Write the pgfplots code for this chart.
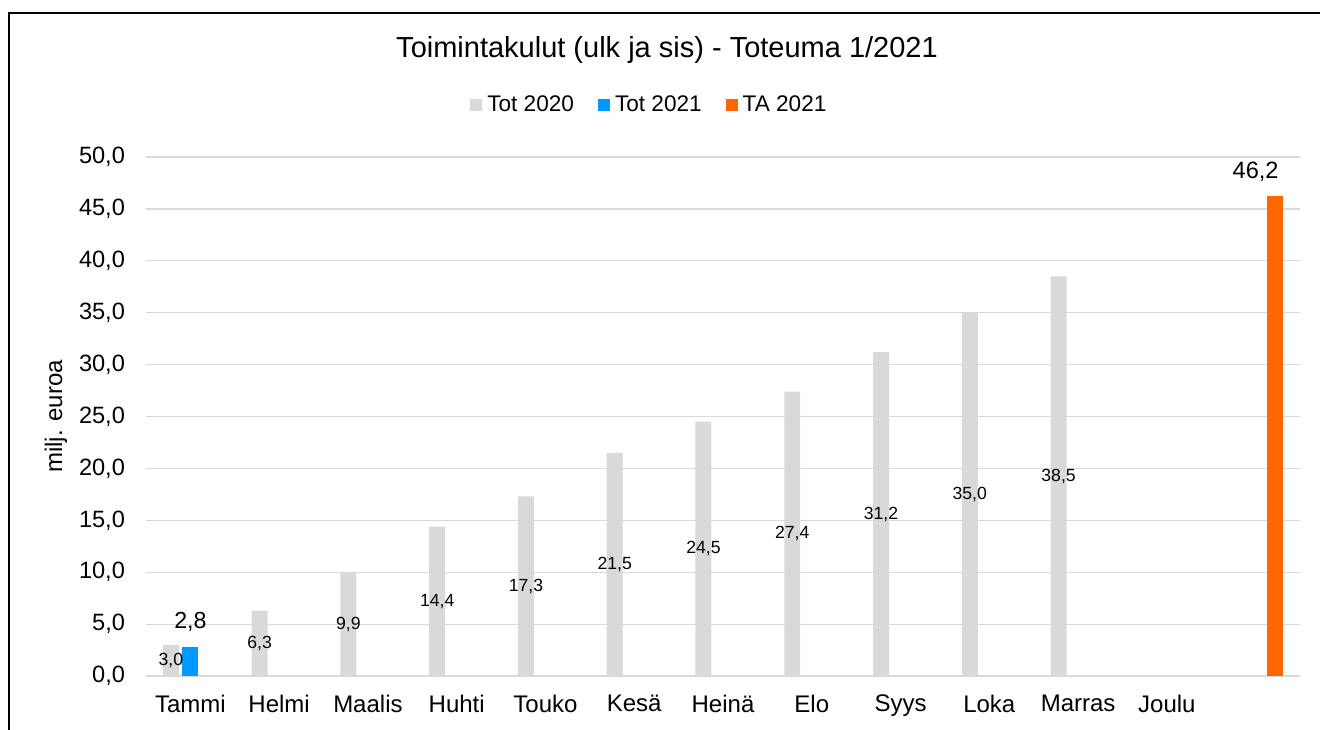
\documentclass[border=0pt]{standalone}
\usepackage{pgfplots}
\pgfplotsset{compat=1.18}
\usepackage{pgfplotstable}
\usepackage{fontspec}
\setmainfont{Liberation Sans}
\definecolor{gbar}{HTML}{D9D9D9}
\definecolor{bbar}{HTML}{0099FF}
\definecolor{obar}{HTML}{FF6600}
\definecolor{gridc}{HTML}{D9D9D9}
\pgfplotstableread{
x v
0 3.0
1 6.3
2 9.9
3 14.4
4 17.3
5 21.5
6 24.5
7 27.4
8 31.2
9 35.0
10 38.5
}\totA
\pgfplotstableread{
x v
0 2.8
}\totB
\pgfplotstableread{
x v
12 46.2
}\taB
\begin{document}
\begin{tikzpicture}
\useasboundingbox (0,0) rectangle (660pt,364.5pt);
\draw[line width=1pt] (4.65pt,-1pt) -- (4.65pt,358pt) -- (661pt,358pt);
\node[font=\fontsize{14.5}{17}\selectfont] at (333.5pt,339.5pt) {Toimintakulut (ulk ja sis) - Toteuma 1/2021};
\begin{axis}[
  at={(73pt,26.5pt)}, anchor=south west,
  scale only axis, width=577pt, height=259.5pt,
  xmin=-0.5, xmax=12.5, ymin=0, ymax=50,
  xtick={0,...,11},
  xticklabels={Tammi,Helmi,Maalis,Huhti,Touko,Kesä,Heinä,Elo,Syys,Loka,Marras,Joulu},
  ytick={0,5,...,50},
  major tick length=0pt,
  axis line style={draw=none},
  ymajorgrids, grid style={gridc, line width=0.6pt},
  xticklabel style={font=\fontsize{12}{14}\selectfont, yshift=-6pt},
  yticklabel style={font=\fontsize{11.8}{14}\selectfont, xshift=-7pt,
    /pgf/number format/.cd, fixed, fixed zerofill, precision=1, use comma, assume math mode=true},
  ylabel={milj. euroa},
  every axis y label/.style={at={(axis description cs:-0.078,0.5)}, rotate=90, anchor=center, font=\fontsize{12}{14}\selectfont},
  legend style={at={(0.4375,1.100)}, anchor=center, draw=none, fill=none,
    font=\fontsize{11.3}{14}\selectfont, legend columns=3,
    /tikz/every even column/.append style={column sep=9.5pt},
    nodes={inner sep=2.5pt}},
  legend cell align=left,
  clip=false,
]
\addplot[ybar, bar width=0.18, bar shift=-0.22, fill=gbar, draw=none,
  legend image code/.code={\fill[gbar] (0pt,-3pt) rectangle (6pt,3pt);}]
  table[x=x, y=v] {\totA};
\addlegendentry{Tot 2020}
\addplot[ybar, bar width=0.18, bar shift=0, fill=bbar, draw=none,
  nodes near coords={\pgfmathprintnumber[fixed,fixed zerofill,precision=1,use comma,assume math mode=true]{\pgfplotspointmeta}},
  every node near coord/.append style={font=\fontsize{11.6}{13}\selectfont, black, yshift=4pt},
  legend image code/.code={\fill[bbar] (0pt,-3pt) rectangle (6pt,3pt);}]
  table[x=x, y=v] {\totB};
\addlegendentry{Tot 2021}
\addplot[ybar, bar width=0.18, bar shift=0.22, fill=obar, draw=none,
  nodes near coords={\pgfmathprintnumber[fixed,fixed zerofill,precision=1,use comma,assume math mode=true]{\pgfplotspointmeta}},
  every node near coord/.append style={font=\fontsize{11.8}{13}\selectfont, black, yshift=4pt},
  legend image code/.code={\fill[obar] (0pt,-3pt) rectangle (6pt,3pt);}]
  table[x=x, y=v] {\taB};
\addlegendentry{TA 2021}
\addplot[draw=none, mark=none, forget plot, point meta=explicit,
  nodes near coords={\pgfmathprintnumber[fixed,fixed zerofill,precision=1,use comma,assume math mode=true]{\pgfplotspointmeta}},
  every node near coord/.append style={font=\fontsize{8.8}{10}\selectfont, black, anchor=center}]
  table[x expr=\thisrow{x}-0.22, y expr=\thisrow{v}/2, meta=v] {\totA};
\end{axis}
\end{tikzpicture}
\end{document}
